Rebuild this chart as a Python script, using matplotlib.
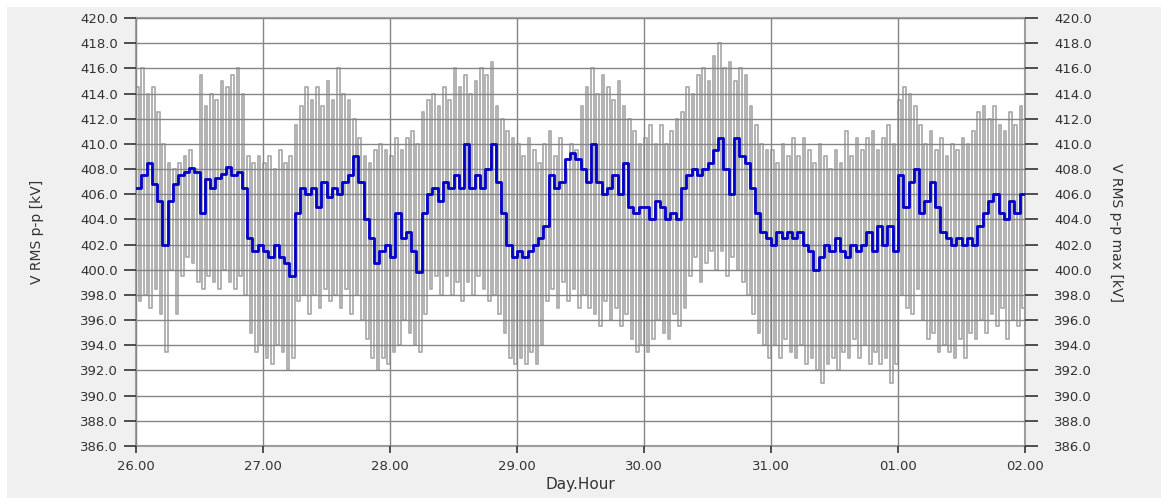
import numpy as np
import matplotlib
matplotlib.use('Agg')
import matplotlib.pyplot as plt
from matplotlib.patches import Rectangle

plt.rcParams['font.family'] = ['DejaVu Sans']

# tick labels
day_labels = ['26.00', '27.00', '28.00', '29.00', '30.00', '31.00', '01.00', '02.00']
y_ticks = np.arange(386, 421, 2)

# V RMS p-p, hourly readings (one row per day)
v_rms = [
    406.5, 407.5, 408.5, 406.8, 405.5, 402.0, 405.5, 406.8, 407.5, 407.8, 408.1, 407.8,
    404.5, 407.2, 406.5, 407.3, 407.6, 408.2, 407.5, 407.8, 406.5, 402.5, 401.5, 402.0,
    401.5, 401.0, 402.0, 401.0, 400.5, 399.5, 404.5, 406.5, 406.0, 406.5, 405.0, 407.0,
    405.8, 406.5, 406.0, 407.0, 407.5, 409.0, 407.0, 404.0, 402.5, 400.5, 401.5, 402.0,
    401.0, 404.5, 402.5, 403.0, 401.5, 399.8, 404.5, 406.0, 406.5, 405.5, 407.0, 406.5,
    407.5, 406.5, 410.0, 406.5, 407.5, 406.5, 408.0, 410.0, 407.0, 404.5, 402.0, 401.0,
    401.5, 401.0, 401.5, 402.0, 402.5, 403.5, 407.5, 406.5, 407.0, 408.8, 409.3, 408.8,
    408.0, 407.0, 410.0, 407.0, 406.0, 406.5, 407.5, 406.0, 408.5, 405.0, 404.5, 405.0,
    405.0, 404.0, 405.5, 405.0, 404.0, 404.5, 404.0, 406.5, 407.5, 408.0, 407.5, 408.0,
    408.5, 409.5, 410.5, 408.0, 406.0, 410.5, 409.0, 408.5, 406.5, 404.5, 403.0, 402.5,
    402.0, 403.0, 402.5, 403.0, 402.5, 403.0, 402.0, 401.5, 400.0, 401.0, 402.0, 401.5,
    402.5, 401.5, 401.0, 402.0, 401.5, 402.0, 403.0, 401.5, 403.5, 402.0, 403.5, 401.5,
    407.5, 405.0, 407.0, 408.0, 404.5, 405.5, 407.0, 405.0, 403.0, 402.5, 402.0, 402.5,
    402.0, 402.5, 402.0, 403.5, 404.5, 405.5, 406.0, 404.5, 404.0, 405.5, 404.5, 406.0,
]

# V RMS p-p max, hourly upper / lower readings
vmax_hi = [
    414.5, 416.0, 414.0, 414.5, 412.5, 410.0, 408.5, 408.0, 408.5, 409.0, 409.5, 408.0,
    415.5, 413.0, 414.0, 413.5, 415.0, 414.5, 415.5, 416.0, 414.0, 409.0, 408.5, 409.0,
    408.5, 409.0, 408.0, 409.5, 408.5, 409.0, 411.5, 413.0, 414.5, 413.5, 414.5, 413.0,
    415.0, 413.5, 416.0, 414.0, 413.5, 412.0, 410.5, 409.0, 408.5, 409.5, 410.0, 409.5,
    409.0, 410.5, 409.5, 410.5, 411.0, 410.0, 412.5, 413.5, 414.0, 413.0, 414.5, 413.5,
    416.0, 414.5, 415.5, 414.0, 415.0, 416.0, 415.5, 416.5, 413.0, 412.0, 411.0, 410.5,
    410.0, 409.0, 410.5, 409.5, 408.5, 410.0, 411.0, 409.0, 410.5, 408.0, 410.0, 409.5,
    413.0, 414.5, 416.0, 414.0, 415.5, 414.5, 413.5, 415.0, 413.0, 412.0, 411.0, 410.0,
    410.5, 411.5, 410.0, 411.5, 410.0, 411.0, 412.0, 412.5, 414.5, 414.0, 415.5, 416.0,
    415.0, 417.0, 418.0, 416.0, 416.5, 415.0, 416.0, 415.5, 413.0, 411.5, 410.0, 409.5,
    409.5, 408.5, 410.0, 409.0, 410.5, 409.0, 410.5, 409.5, 408.5, 410.0, 409.0, 408.0,
    409.5, 408.5, 411.0, 409.0, 410.5, 409.5, 410.5, 411.0, 409.5, 410.5, 411.5, 410.0,
    413.5, 414.5, 414.0, 413.0, 411.5, 410.0, 411.0, 409.5, 410.5, 409.0, 410.0, 409.5,
    410.5, 410.0, 411.0, 412.5, 413.0, 412.0, 413.0, 411.5, 411.0, 412.5, 411.5, 413.0,
]
vmax_lo = [
    397.5, 398.0, 397.0, 398.5, 396.5, 393.5, 400.0, 396.5, 399.5, 401.0, 400.5, 399.0,
    398.5, 399.5, 399.0, 398.5, 400.0, 399.0, 398.5, 399.5, 398.0, 395.0, 393.5, 394.0,
    393.0, 392.5, 394.0, 393.5, 392.0, 393.0, 397.5, 398.0, 396.5, 398.0, 397.0, 398.5,
    397.5, 398.0, 397.0, 398.5, 396.5, 398.0, 396.0, 394.5, 393.0, 392.0, 393.0, 392.5,
    393.5, 394.0, 396.0, 395.0, 394.0, 393.5, 396.5, 398.5, 399.5, 398.0, 399.5, 398.0,
    399.0, 397.5, 399.0, 398.0, 399.5, 398.5, 397.5, 398.0, 396.5, 395.0, 393.0, 392.5,
    393.0, 392.5, 393.5, 392.5, 394.0, 397.5, 398.5, 397.0, 399.0, 397.5, 398.5, 397.0,
    398.0, 397.0, 396.5, 395.5, 397.5, 396.0, 397.0, 395.5, 396.5, 394.5, 393.5, 394.0,
    393.5, 394.5, 396.0, 395.0, 394.5, 396.5, 395.5, 397.0, 399.5, 401.0, 399.0, 400.5,
    401.5, 400.0, 401.5, 399.5, 401.0, 400.0, 399.0, 398.0, 396.5, 395.0, 394.0, 393.0,
    394.0, 393.0, 394.5, 393.5, 393.0, 394.0, 392.5, 393.0, 392.0, 391.0, 392.5, 393.0,
    392.0, 393.5, 393.0, 394.5, 393.0, 394.0, 392.5, 393.5, 392.5, 393.0, 391.0, 392.5,
    398.0, 397.0, 396.5, 398.5, 396.0, 394.5, 395.0, 393.5, 394.0, 393.5, 393.0, 394.5,
    393.0, 395.0, 394.5, 396.0, 395.0, 396.5, 395.5, 397.0, 394.5, 396.0, 395.5, 397.0,
]

# time axis in days from 26.00, one reading per hour
t = np.arange(len(v_rms)) / 24.0

fig = plt.figure(figsize=(11.61, 4.98), dpi=100, facecolor='white')
fig.patches.append(Rectangle((7 / 1161, 0), 1, 491 / 498, transform=fig.transFigure,
                             facecolor='#f0f0f0', edgecolor='none', zorder=-10))
ax = fig.add_axes([136 / 1161, 52 / 498, 889 / 1161, 428 / 498])
ax.set_facecolor('white')

# gray max trace: up/down every half hour
tg = np.empty(2 * len(t))
tg[0::2] = t
tg[1::2] = t + 0.5 / 24
vg = np.empty(2 * len(t))
vg[0::2] = vmax_hi
vg[1::2] = vmax_lo
ax.plot(np.append(tg, 7.0), np.append(vg, vg[-1]), drawstyle='steps-post',
        color='#acacac', lw=1.3, zorder=2)

ax.plot(np.append(t, 7.0), np.append(v_rms, v_rms[-1]), drawstyle='steps-post',
        color='#0000c8', lw=2.0, zorder=4)

ax.set_xlim(0, 7)
ax.set_ylim(386, 420)
ax.set_xticks(range(8))
ax.set_xticklabels(day_labels)
ax.set_yticks(y_ticks)
ax.set_yticklabels([f'{v:.1f}' for v in y_ticks])
ax.grid(True, color='#858585', lw=1.0, zorder=3)
ax.set_axisbelow(False)
for s in ax.spines.values():
    s.set_color('#a0a0a0')
    s.set_linewidth(1.5)
ax.tick_params(axis='y', length=9, width=1.2, color='#333333', labelsize=9.5,
               labelcolor='#333333', pad=4)
ax.tick_params(axis='x', length=5, width=1.2, color='#333333', labelsize=9.5,
               labelcolor='#333333', pad=5)

ax2 = ax.twinx()
ax2.set_ylim(386, 420)
ax2.set_yticks(y_ticks)
ax2.set_yticklabels([f'{v:.1f}' for v in y_ticks])
ax2.tick_params(axis='y', length=9, width=1.2, color='#333333', labelsize=9.5,
                labelcolor='#333333', pad=12)
for s in ax2.spines.values():
    s.set_visible(False)

ax.set_ylabel('V RMS p-p [kV]', fontsize=10, color='#333333', labelpad=26)
ax2.set_ylabel('V RMS p-p max [kV]', fontsize=10, color='#333333', rotation=270,
               labelpad=22)
ax.set_xlabel('Day.Hour', fontsize=11, color='#333333', labelpad=3)

fig.savefig('out.png', dpi=100, facecolor=fig.get_facecolor())
